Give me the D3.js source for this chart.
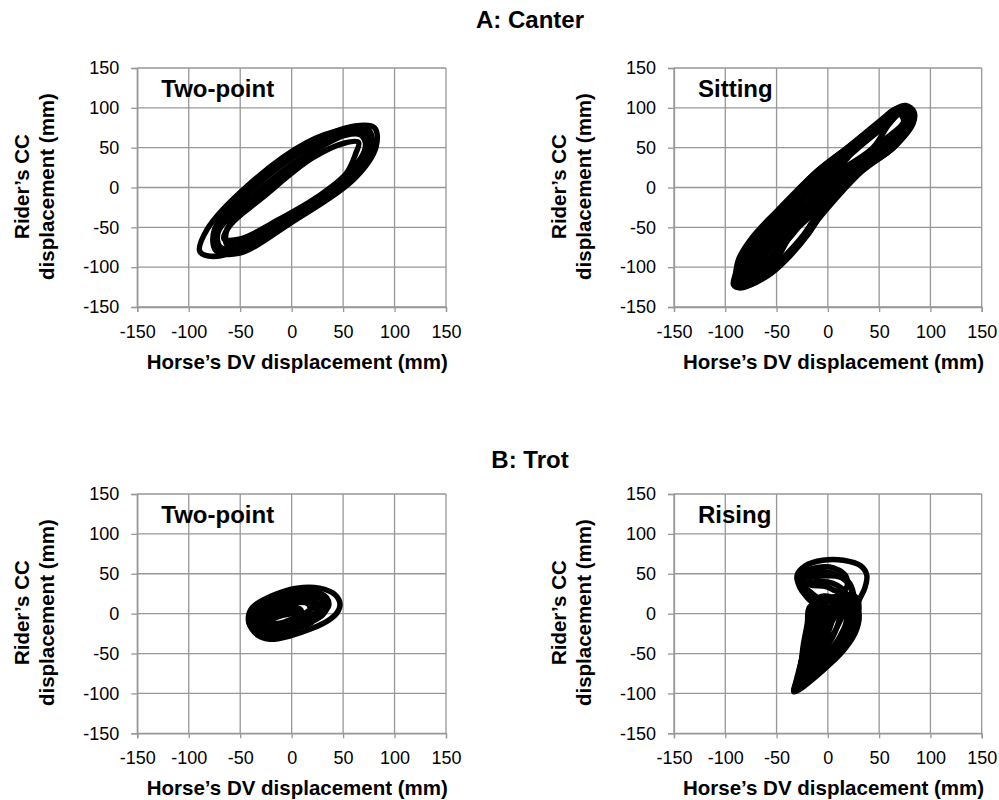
<!DOCTYPE html>
<html>

<head>
    <meta charset="utf-8">
    <title>Rider vs horse displacement</title>
    <script src="https://cdn.jsdelivr.net/npm/d3@7"></script>
    <style>
        body { margin: 0; background: #fff; }
        text { font-family: 'Liberation Sans', Arial, sans-serif; }
    </style>
</head>

<body>
    <svg width="999" height="800" id="mainsvg"></svg>
    <script>
        // tick values shared by both axes of every panel
        const ticks = [-150, -100, -50, 0, 50, 100, 150];

        // each series is a list of loops, each loop a list of [horse DV, rider CC] in mm
        const canterTwoPoint = [
            [[80.6,74.9],[61.5,77.1],[16,54],[-40,-1],[-74.9,-52.3],[-73.5,-79.2],[-51.6,-82.7],[0.7,-43.1],[60.4,10.3],[82,50.9]],
            [[69.3,72.1],[51.6,72.8],[14,56],[-44,1],[-82,-52.3],[-89.1,-80.6],[-72.1,-86.3],[-24,-60.8],[36.8,-8.5],[74.2,38.9]],
            [[67.9,67.9],[53,67.2],[14.8,41.7],[-41.7,-14.8],[-71.4,-55.9],[-69.3,-74.9],[-52.3,-74.9],[-3.5,-38.9],[48.1,8.5],[71.4,48.8]],
            [[65,56.6],[51.6,55.9],[19.8,36.8],[-29,-13.4],[-59.4,-46.7],[-65.8,-64.3],[-50.9,-65],[-10.6,-38.9],[25.5,-11.3],[53,17.7],[62.2,42.4]],
            [[74.9,72.1],[56.6,73.5],[15,49],[-42,-7],[-74.2,-55.9],[-70,-77.1],[-51.6,-78.5],[-1.4,-41],[53.7,9.9],[77.8,49.5]],
            [[67.2,65.8],[53,65.8],[19.8,43.8],[-35.4,-14.1],[-62.2,-50.9],[-62.9,-71.4],[-44.5,-68.6],[-4.2,-38.2],[52.3,11.3],[72.8,47.4]]
        ];

        const canterSitting = [
            [[76,103],[84,95],[83,80],[64,50],[33,20],[-3,-30],[-22,-60],[-43,-90],[-63,-113],[-85,-126],[-92,-122],[-90,-108],[-87,-90],[-72,-60],[-50,-30],[-11,20],[19,50],[53,85],[65,98]],
            [[74,99],[80,90],[77,74],[56,50],[24,20],[-12,-30],[-36,-60],[-50,-90],[-66,-110],[-84,-120],[-88,-114],[-86,-100],[-80,-90],[-62,-60],[-40,-30],[-5,20],[25,50],[57,85],[66,94]],
            [[72,96],[77,88],[75,74],[60,50],[28,20],[-16,-30],[-35,-60],[-56,-90],[-70,-108],[-84,-117],[-87,-110],[-82,-98],[-76,-90],[-57,-60],[-35,-30],[4,20],[30,50],[62,84],[68,92]],
            [[70,97],[75,90],[73,80],[45,50],[18,20],[-20,-30],[-42,-60],[-66,-90],[-76,-106],[-86,-119],[-90,-114],[-86,-102],[-82,-90],[-65,-60],[-43,-30],[-7,20],[22,50],[56,84],[64,93]],
            [[77,101],[83,92],[81,78],[62,50],[30,20],[-8,-30],[-24,-60],[-45,-90],[-62,-110],[-80,-118],[-84,-112],[-78,-100],[-72,-90],[-52,-60],[-32,-30],[-3,20],[27,50],[54,84],[68,97]],
            [[70,92],[74,84],[68,68],[50,50],[20,20],[-25,-30],[-46,-60],[-64,-90],[-78,-110],[-86,-116],[-84,-106],[-70,-90],[-50,-60],[-28,-30],[12,20],[44,50],[60,80]],
            [[72,98],[78,90],[73,72],[52,50],[12,20],[-18,-30],[-38,-60],[-58,-90],[-72,-108],[-86,-120],[-89,-112],[-84,-100],[-78,-90],[-60,-60],[-38,-30],[8,20],[28,50],[59,85],[66,94]],
            [[73,97],[79,88],[77,76],[58,50],[26,20],[-14,-30],[-40,-60],[-54,-90],[-68,-108],[-86,-118],[-88,-110],[-80,-98],[-74,-90],[-55,-60],[-38,-30],[-2,20],[24,50],[60,84],[67,93]],
            [[75,102],[82,93],[80,76],[64,50],[31,20],[-4,-30],[-20,-60],[-40,-90],[-60,-112],[-82,-124],[-90,-118],[-88,-104],[-85,-90],[-70,-60],[-48,-30],[-11,20],[19,50],[51,84],[64,97]]
        ];

        const trotTwoPoint = [
            [[-42,-4],[-38,8],[-18,23],[5,32],[27,32],[42,24],[47,12],[44,1],[35,-9],[19,-19],[-2,-28],[-21,-32],[-33,-27],[-40,-16]],
            [[-40,-6],[-35,7],[-18,20],[2,26],[22,25],[32,15],[30,3],[20,-8],[0,-18],[-18,-26],[-32,-24],[-38,-16]],
            [[-38,-8],[-32,4],[-16,15],[0,20],[18,18],[28,8],[24,-2],[10,-10],[-8,-20],[-22,-26],[-33,-20]],
            [[-35,-10],[-30,2],[-14,10],[2,14],[18,12],[24,4],[16,-5],[0,-12],[-15,-20],[-28,-20]],
            [[-36,-5],[-28,6],[-10,18],[10,22],[28,19],[34,10],[30,-2],[16,-12],[-4,-22],[-24,-30],[-34,-18]],
            [[-25,-8],[-18,4],[-4,8],[8,6],[10,-2],[0,-8],[-12,-14],[-22,-14]],
            [[-30,-12],[-22,0],[-8,4],[6,2],[14,-4],[6,-12],[-10,-18],[-24,-20]],
            [[-40,-2],[-34,10],[-16,22],[4,28],[22,28],[34,20],[36,10],[30,0],[18,-10],[0,-22],[-20,-30],[-34,-24],[-40,-12]],
            [[-32,-6],[-26,4],[-12,12],[4,16],[16,16],[20,8],[12,0],[-2,-8],[-16,-16],[-28,-16]],
            [[-20,-4],[-10,2],[0,2],[4,-4],[-6,-10],[-16,-12]],
            [[-38,-2],[-30,9],[-12,19],[8,24],[24,22],[30,14],[26,4],[14,-6],[-4,-16],[-22,-24],[-34,-14]],
            [[-42,-8],[-36,4],[-20,14],[-2,18],[14,14],[18,6],[8,-4],[-8,-14],[-24,-24],[-36,-22]],
            [[-30,-16],[-18,-6],[0,0],[16,-2],[20,-10],[6,-18],[-12,-26],[-26,-26]]
        ];

        const trotRising = [
            [[-33,-98],[-9,-76],[11,-50],[24,-28],[28,-5],[30,15],[36,32],[38,48],[32,60],[15,67],[-5,67],[-22,60],[-30,48],[-27,32],[-20,20],[-12,8],[-15,-15],[-22,-40],[-27,-65],[-31,-85]],
            [[-30,-92],[-10,-70],[8,-45],[20,-20],[25,5],[25,25],[20,40],[8,47],[-8,47],[-22,44],[-28,38],[-22,28],[-12,20],[-5,5],[-12,-20],[-20,-45],[-26,-70]],
            [[-31,-95],[-15,-78],[2,-55],[15,-30],[22,-5],[24,18],[22,33],[14,45],[0,52],[-15,52],[-26,46],[-25,36],[-15,25],[-5,12],[-8,-8],[-18,-35],[-24,-60],[-28,-80]],
            [[-28,-88],[-8,-62],[8,-38],[18,-15],[22,5],[18,25],[5,38],[-12,40],[-24,36],[-20,26],[-8,18],[0,5],[-5,-15],[-14,-40],[-22,-65]],
            [[-32,-96],[-5,-68],[14,-40],[26,-15],[28,8],[15,20],[-5,18],[-18,8],[-20,-12],[-24,-40],[-27,-70]],
            [[18,32],[18,46],[6,57],[-10,58],[-24,52],[-27,42],[-18,36],[-2,34],[10,28]],
            [[-30,-94],[-14,-70],[-2,-45],[8,-20],[12,2],[8,14],[-2,14],[-8,0],[-10,-25],[-18,-55],[-25,-80]],
            [[-31,-96],[-20,-75],[-10,-50],[0,-25],[5,0],[0,8],[-6,2],[-8,-20],[-16,-50],[-25,-80]],
            [[-33,-97],[-18,-80],[-4,-58],[12,-34],[22,-10],[24,10],[12,16],[-6,12],[-14,-5],[-20,-30],[-26,-60],[-30,-85]],
            [[-32,-95],[-6,-72],[16,-45],[28,-20],[30,2],[22,14],[6,8],[-4,-10],[-12,-35],[-20,-62],[-28,-85]],
            [[-32,-94],[-12,-74],[4,-50],[16,-26],[20,-4],[16,10],[4,10],[-6,-4],[-10,-30],[-18,-58],[-26,-80]],
            [[-30,-90],[-18,-70],[-6,-48],[6,-24],[14,0],[10,16],[-4,22],[-14,14],[-18,-8],[-22,-36],[-26,-62]],
            [[-28,-86],[-2,-60],[18,-34],[26,-8],[26,14],[14,6],[2,-14],[-6,-38],[-16,-64]],
            [[-30,-92],[-4,-66],[14,-42],[24,-20],[30,0],[28,20],[16,24],[2,18],[-10,2],[-16,-24],[-22,-52],[-27,-76]],
            [[-29,-90],[-10,-66],[6,-42],[16,-20],[22,0],[20,14],[8,20],[-6,10],[-12,-10],[-18,-40],[-24,-66]],
            [[-31,-94],[-8,-70],[10,-46],[20,-24],[24,-4],[18,10],[6,4],[-2,-16],[-8,-40],[-16,-66],[-26,-84]],
            [[-30,-92],[-16,-72],[0,-50],[12,-28],[18,-8],[12,6],[2,-4],[-4,-28],[-12,-52],[-22,-76]]
        ];

        const groupTitles = [
            { text: 'A: Canter', y: 27.7 },
            { text: 'B: Trot', y: 467.7 }
        ];

        const panels = [
            { loops: canterTwoPoint, label: 'Two-point', left: 137.3, right: 446, top: 68, bottom: 307 },
            { loops: canterSitting, label: 'Sitting', left: 674, right: 981.7, top: 68, bottom: 307 },
            { loops: trotTwoPoint, label: 'Two-point', left: 137.3, right: 446, top: 494, bottom: 733.3 },
            { loops: trotRising, label: 'Rising', left: 674, right: 981.7, top: 494, bottom: 733.3 }
        ];

        const svg = d3.select('svg');
        const gridColor = '#979797';

        svg.selectAll('.group-title').data(groupTitles).join('text')
            .attr('class', 'group-title')
            .attr('x', 530).attr('y', d => d.y)
            .attr('text-anchor', 'middle')
            .attr('font-size', 24).attr('font-weight', 'bold')
            .text(d => d.text);

        panels.forEach(p => {
            const x = d3.scaleLinear().domain([-150, 150]).range([p.left, p.right]);
            const y = d3.scaleLinear().domain([-150, 150]).range([p.bottom, p.top]);
            const g = svg.append('g');

            // grid
            g.selectAll('.vgrid').data(ticks).join('line')
                .attr('x1', d => x(d)).attr('x2', d => x(d))
                .attr('y1', p.top).attr('y2', p.bottom)
                .attr('stroke', gridColor).attr('stroke-width', 1.3);
            g.selectAll('.hgrid').data(ticks).join('line')
                .attr('x1', p.left).attr('x2', p.right)
                .attr('y1', d => y(d)).attr('y2', d => y(d))
                .attr('stroke', gridColor).attr('stroke-width', 1.3);

            // axes (tick marks + labels), plain hyphen like the original
            const fmt = d => String(d);
            const xAxis = g.append('g')
                .attr('transform', `translate(0,${p.bottom})`)
                .call(d3.axisBottom(x).tickValues(ticks).tickFormat(fmt).tickSize(5).tickPadding(13));
            const yAxis = g.append('g')
                .attr('transform', `translate(${p.left},0)`)
                .call(d3.axisLeft(y).tickValues(ticks).tickFormat(fmt).tickSize(6).tickPadding(12));
            [xAxis, yAxis].forEach(a => {
                a.select('.domain').attr('stroke', gridColor).attr('stroke-width', 1.3);
                a.selectAll('line').attr('stroke', gridColor).attr('stroke-width', 1.3);
                a.selectAll('text').attr('font-size', 18).attr('fill', '#000')
                    .attr('font-family', "'Liberation Sans', Arial, sans-serif");
            });

            // loops
            const line = d3.line()
                .x(d => x(d[0])).y(d => y(d[1]))
                .curve(d3.curveCatmullRomClosed.alpha(0.5));
            g.selectAll('.loop').data(p.loops).join('path')
                .attr('d', line)
                .attr('fill', 'none')
                .attr('stroke', '#000')
                .attr('stroke-width', 5.5)
                .attr('stroke-linejoin', 'round');

            // panel label
            g.append('text')
                .attr('x', p.left + 24).attr('y', p.top + 28.5)
                .attr('font-size', 24).attr('font-weight', 'bold')
                .text(p.label);

            // axis titles
            const cx = (p.left + p.right) / 2;
            const cy = (p.top + p.bottom) / 2;
            g.append('text')
                .attr('x', cx + 5.7).attr('y', p.bottom + 62)
                .attr('text-anchor', 'middle')
                .attr('font-size', 20.5).attr('font-weight', 'bold')
                .text('Horse\u2019s DV displacement (mm)');
            const yTitle = g.append('text')
                .attr('transform', `translate(${p.left - 108.5},${cy - 1}) rotate(-90)`)
                .attr('text-anchor', 'middle')
                .attr('font-size', 20.5).attr('font-weight', 'bold');
            yTitle.append('tspan').attr('x', 0).attr('y', 0).text('Rider\u2019s CC');
            yTitle.append('tspan').attr('x', 0).attr('y', 25.5).text('displacement (mm)');
        });
    </script>
</body>

</html>
